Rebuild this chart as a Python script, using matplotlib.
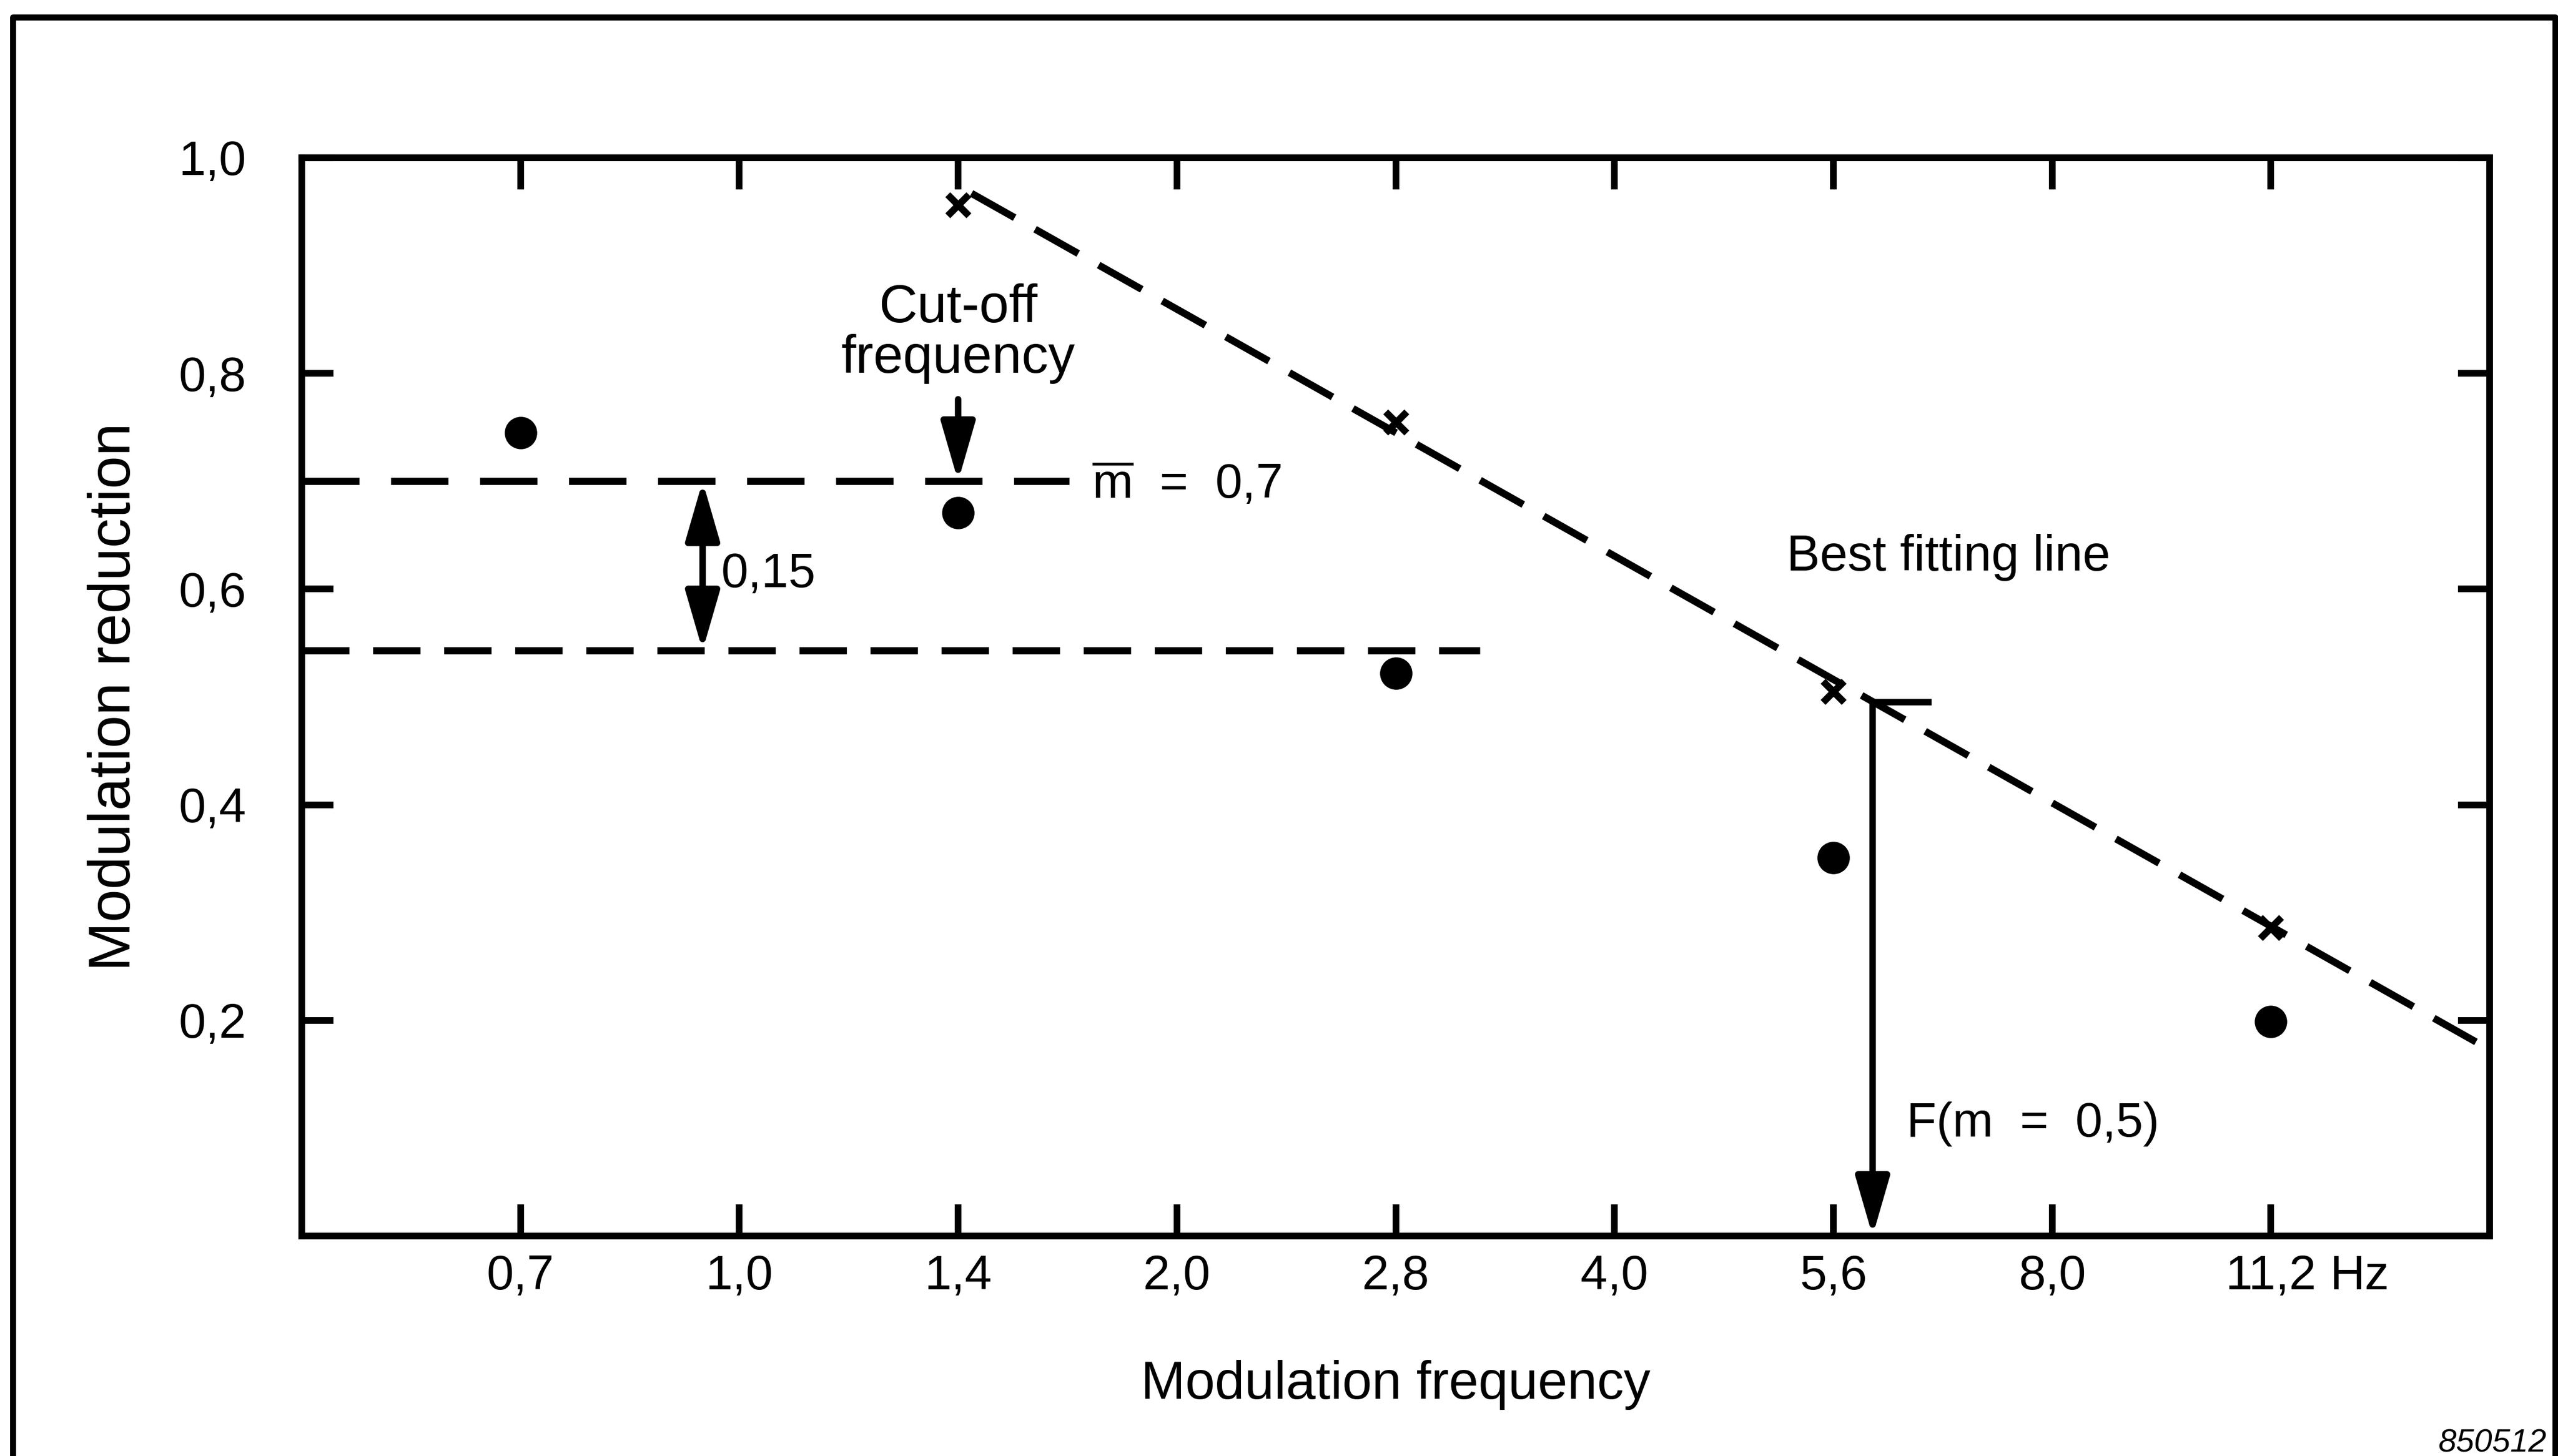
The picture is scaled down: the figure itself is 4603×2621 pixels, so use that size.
import matplotlib
matplotlib.use('Agg')
import matplotlib.pyplot as plt
import numpy as np
from matplotlib.lines import Line2D

plt.rcParams['font.family'] = ['Liberation Sans', 'DejaVu Sans']
plt.rcParams['mathtext.fontset'] = 'custom'
plt.rcParams['mathtext.rm'] = 'Liberation Sans'

# x axis: frequency steps of sqrt(2), nominal labels
tick_labels = ['0,7', '1,0', '1,4', '2,0', '2,8', '4,0', '5,6', '8,0', '11,2']
unit_label = 'Hz'
ytick_values = [0.2, 0.4, 0.6, 0.8, 1.0]
ytick_labels = ['0,2', '0,4', '0,6', '0,8', '1,0']

# measured modulation reduction (dots) and normalised values (crosses)
dot_freq = [0.7, 1.4, 2.8, 5.6, 11.2]
dot_m = [0.745, 0.671, 0.522, 0.351, 0.199]
cross_freq = [1.4, 2.8, 5.6, 11.2]
cross_m = [0.956, 0.755, 0.505, 0.286]

# best fitting line end points
fit_freq = [1.43, 15.5]
fit_m = [0.967, 0.180]

# mean level and the level 0,15 below it
m_mean = 0.70
m_low = 0.543
mean_end = 1.67
low_end = 3.2
f_gap = 0.934      # where the 0,15 arrow sits
f_cutoff = 1.4
f_half = 5.96      # F(m = 0,5)
m_half = 0.495

W, H, DPI = 4603, 2621, 300
fig = plt.figure(figsize=(W / DPI, H / DPI), dpi=DPI)
ax = fig.add_axes([543 / W, 1 - 2225 / H, (4480 - 543) / W, (2225 - 284) / H])

ticks = 0.7 * np.sqrt(2) ** np.arange(len(tick_labels))
ax.set_xscale('log', base=2)
ax.set_xlim(ticks[0] / np.sqrt(2), ticks[-1] * np.sqrt(2))
ax.set_ylim(0, 1.0)
ax.set_xticks(ticks)
ax.set_xticklabels(tick_labels)
ax.minorticks_off()
ax.set_yticks(ytick_values)
ax.set_yticklabels(ytick_labels)

lw = 2.9
xpad = 8
for s in ax.spines.values():
    s.set_linewidth(lw)
ax.tick_params(axis='both', which='major', direction='in', length=13.7, width=lw,
               top=True, right=True, labelsize=21)
ax.tick_params(axis='x', pad=xpad)
ax.tick_params(axis='y', pad=24)
# unit after the last tick label
ax.annotate(unit_label, xy=(ticks[-1], 0), xycoords=('data', 'axes fraction'),
            xytext=(25.5, -xpad), textcoords='offset points',
            ha='left', va='top', fontsize=21)

ax.set_xlabel('Modulation frequency', fontsize=23)
ax.xaxis.set_label_coords(0.5, -0.115)
ax.set_ylabel('Modulation reduction', fontsize=25.5)
ax.yaxis.set_label_coords(-0.073, 0.5)

# dashed lines
dlw = 3.1
ax.plot([ax.get_xlim()[0], mean_end], [m_mean, m_mean], color='black', lw=dlw,
        dashes=(8.0, 4.4))
ax.plot([ax.get_xlim()[0], low_end], [m_low, m_low], color='black', lw=dlw,
        dashes=(6.6, 3.3))
ax.plot(fit_freq, fit_m, color='black', lw=dlw, dashes=(6.9, 3.27))

# data points
ax.plot(dot_freq, dot_m, 'o', color='black', ms=13, zorder=5)
ax.plot(cross_freq, cross_m, 'x', color='black', ms=9, mew=3, zorder=5)

alw = 2.8
head = '-|>,head_length=0.9,head_width=0.26'
ax.annotate('', xy=(f_gap, m_low), xytext=(f_gap, m_mean),
            arrowprops=dict(arrowstyle='<|-|>,head_length=0.9,head_width=0.26',
                            color='black', lw=alw, mutation_scale=24,
                            shrinkA=0, shrinkB=0))
ax.annotate('', xy=(f_cutoff, m_mean), xytext=(f_cutoff, 0.776),
            arrowprops=dict(arrowstyle=head, color='black', lw=alw,
                            mutation_scale=24, shrinkA=0, shrinkB=0))
ax.annotate('', xy=(f_half, 0.0), xytext=(f_half, m_half),
            arrowprops=dict(arrowstyle=head, color='black', lw=alw,
                            mutation_scale=24, shrinkA=0, shrinkB=0))
ax.plot([f_half, 6.51], [m_half, m_half], color='black', lw=alw)

# annotation texts
fs = 21
ax.text(f_cutoff, 0.8477, 'Cut-off', ha='center', va='baseline', fontsize=23)
ax.text(f_cutoff, 0.8007, 'frequency', ha='center', va='baseline', fontsize=23)
ax.text(1.73, 0.684, r'$\overline{\mathrm{m}}$  =  0,7', ha='left', va='baseline', fontsize=fs)
ax.text(0.962, 0.602, '0,15', ha='left', va='baseline', fontsize=fs)
ax.text(5.2, 0.617, 'Best fitting line', ha='left', va='baseline', fontsize=21.5)
ax.text(6.29, 0.0924, 'F(m  =  0,5)', ha='left', va='baseline', fontsize=fs)

# page frame and figure number
fx0, fx1, fy1 = 23 / W, 4598 / W, 1 - 31 / H
fig.add_artist(Line2D([fx0, fx0, fx1, fx1], [0, fy1, fy1, 0],
                      transform=fig.transFigure, color='black', lw=2.6))
fig.text(4582 / W, 1 - 2613 / H, '850512', ha='right', va='baseline',
         fontsize=14, style='italic')

fig.savefig('out.png', dpi=DPI)
